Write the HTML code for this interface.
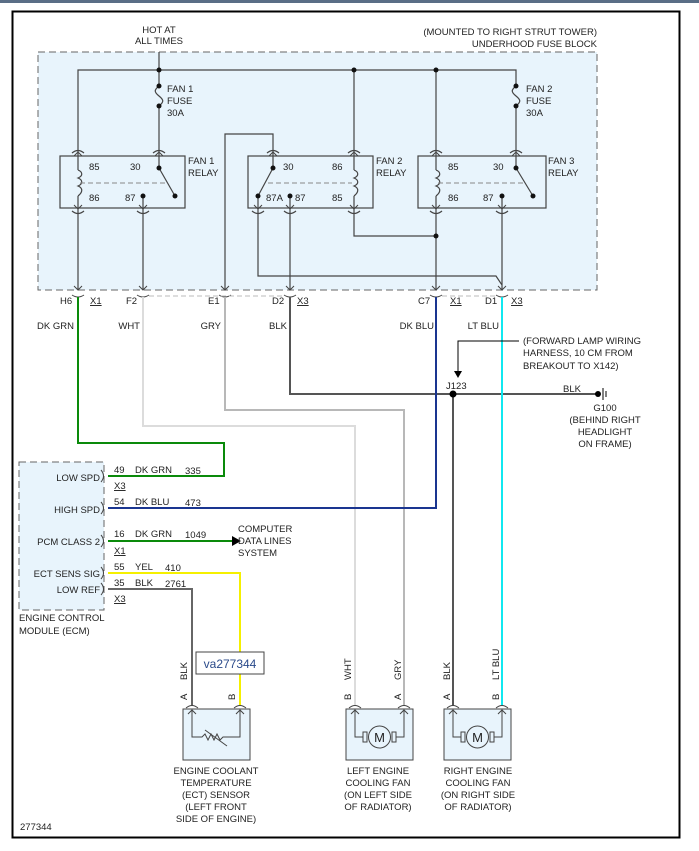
<!DOCTYPE html>
<html><head><meta charset="utf-8"><style>
html,body{margin:0;padding:0;background:#fff}
svg{display:block}
text{font-family:"Liberation Sans",sans-serif;font-size:9.5px;fill:#222}
</style></head><body>
<svg width="699" height="851" viewBox="0 0 699 851" xmlns="http://www.w3.org/2000/svg">
<rect x="0" y="0" width="699" height="3" fill="#5a6e86"/>
<rect x="12.5" y="11.5" width="667" height="826" fill="#fff" stroke="#000" stroke-width="2"/>
<rect x="38" y="52" width="559" height="238" fill="#e8f4fc" stroke="#666" stroke-dasharray="7,4"/>
<text x="159" y="44" text-anchor="middle">ALL TIMES</text>
<text x="159" y="33" text-anchor="middle">HOT AT</text>
<text x="597" y="35" text-anchor="end">(MOUNTED TO RIGHT STRUT TOWER)</text>
<text x="597" y="47" text-anchor="end">UNDERHOOD FUSE BLOCK</text>
<g stroke="#444" fill="none" stroke-width="1.2">
<path d="M159,52V86M78,152V70H516V86M354,70V152M436,70V152"/>
<path d="M159,106V152M516,106V152"/>
<path d="M159,86c-5,4 -5,6 0,10c5,4 5,6 0,10M516,86c-5,4 -5,6 0,10c5,4 5,6 0,10"/>
<rect x="60" y="156" width="125" height="52"/>
<rect x="248" y="156" width="125" height="52"/>
<rect x="418" y="156" width="128" height="52"/>
<path d="M72,153q6,-5 12,0M153,153q6,-5 12,0M267,153q6,-5 12,0M348,153q6,-5 12,0M430,153q6,-5 12,0M510,153q6,-5 12,0"/>
<path d="M72,211q6,5 12,0M137,211q6,5 12,0M252,211q6,5 12,0M284,211q6,5 12,0M348,211q6,5 12,0M430,211q6,5 12,0M496,211q6,5 12,0"/>
<path d="M78,153V170M78,196V212M159,153V168M143,196V212M273,153V168M258,196V212M290,196V212M354,153V170M354,196V212M436,153V170M436,196V212M516,153V168M502,196V212"/>
<path d="M78,170c5,2 5,6 0,8c5,2 5,6 0,8c5,2 5,6 0,10M354,170c5,2 5,6 0,8c5,2 5,6 0,8c5,2 5,6 0,10M436,170c5,2 5,6 0,8c5,2 5,6 0,8c5,2 5,6 0,10"/>
<path d="M159,168L175,196M273,168L258,196M516,168L533,196"/>
<path d="M78,212V290M143,212V290M258,212V276H496L502,285V290M290,212V290M354,212V236H436M436,212V290M502,212V290"/>
<path d="M273,153V134H225V290"/>
</g>
<g stroke="#888" fill="none" stroke-dasharray="5,3"><path d="M80,183H168M268,183H352M438,183H525"/></g>
<g stroke="#444" fill="none"><path d="M74,156l4,-4l4,4M74,205l4,4l4,-4M155,156l4,-4l4,4M139,205l4,4l4,-4M269,156l4,-4l4,4M254,205l4,4l4,-4M286,205l4,4l4,-4M350,156l4,-4l4,4M350,205l4,4l4,-4M432,156l4,-4l4,4M432,205l4,4l4,-4M512,156l4,-4l4,4M498,205l4,4l4,-4"/>
<path d="M74,286l4,4l4,-4M139,286l4,4l4,-4M221,286l4,4l4,-4M286,286l4,4l4,-4M432,286l4,4l4,-4M498,286l4,4l4,-4"/>
<path d="M72,295q6,4 12,0M137,295q6,4 12,0M219,295q6,4 12,0M284,295q6,4 12,0M430,295q6,4 12,0M496,295q6,4 12,0"/></g>
<path d="M149,296H284M442,296H496" stroke="#bbb" stroke-dasharray="5,3" fill="none"/>
<g fill="#111"><circle cx="159" cy="70" r="2.5"/><circle cx="354" cy="70" r="2.5"/><circle cx="436" cy="70" r="2.5"/><circle cx="159" cy="86" r="2.5"/><circle cx="159" cy="106" r="2.5"/><circle cx="516" cy="86" r="2.5"/><circle cx="516" cy="106" r="2.5"/><circle cx="436" cy="236" r="2.5"/>
<circle cx="159" cy="168" r="2.5"/><circle cx="175" cy="196" r="2.5"/><circle cx="143" cy="196" r="2.5"/><circle cx="273" cy="168" r="2.5"/><circle cx="258" cy="196" r="2.5"/><circle cx="290" cy="196" r="2.5"/><circle cx="516" cy="168" r="2.5"/><circle cx="533" cy="196" r="2.5"/><circle cx="502" cy="196" r="2.5"/></g>
<text x="167" y="92">FAN 1</text><text x="167" y="104">FUSE</text><text x="167" y="116">30A</text>
<text x="526" y="92">FAN 2</text><text x="526" y="104">FUSE</text><text x="526" y="116">30A</text>
<text x="188" y="164">FAN 1</text><text x="188" y="176">RELAY</text>
<text x="376" y="164">FAN 2</text><text x="376" y="176">RELAY</text>
<text x="548" y="164">FAN 3</text><text x="548" y="176">RELAY</text>
<text x="89" y="170">85</text><text x="130" y="170">30</text><text x="89" y="201">86</text><text x="125" y="201">87</text>
<text x="283" y="170">30</text><text x="332" y="170">86</text><text x="266" y="201">87A</text><text x="295" y="201">87</text><text x="332" y="201">85</text>
<text x="448" y="170">85</text><text x="493" y="170">30</text><text x="448" y="201">86</text><text x="483" y="201">87</text>
<text x="60" y="304">H6</text><text x="90" y="304" text-decoration="underline">X1</text>
<text x="126" y="304">F2</text><text x="208" y="304">E1</text>
<text x="272" y="304">D2</text><text x="297" y="304" text-decoration="underline">X3</text>
<text x="418" y="304">C7</text><text x="450" y="304" text-decoration="underline">X1</text>
<text x="485" y="304">D1</text><text x="511" y="304" text-decoration="underline">X3</text>
<text x="74" y="329" text-anchor="end">DK GRN</text><text x="140" y="329" text-anchor="end">WHT</text><text x="221" y="329" text-anchor="end">GRY</text><text x="287" y="329" text-anchor="end">BLK</text><text x="434" y="329" text-anchor="end">DK BLU</text><text x="499" y="329" text-anchor="end">LT BLU</text>
<g fill="none" stroke-width="2">
<path d="M143,297V426H355V706" stroke="#dcdcdc"/>
<path d="M225,297V410H404V706" stroke="#b8b8b8"/>
<path d="M78,297V443H224V476H108" stroke="#0a8a0a"/>
<path d="M290,297V394H598" stroke="#555"/>
<path d="M436,297V508H108" stroke="#1a3590"/>
<path d="M502,297V706" stroke="#10e8f0"/>
<path d="M453,394V706" stroke="#555"/>
<path d="M108,541H232" stroke="#0a8a0a"/>
<path d="M108,573H240V706" stroke="#f5f000"/>
<path d="M108,589H192V706" stroke="#666"/>
</g>
<path d="M232,536L241,541L232,546z" fill="#000"/>
<circle cx="453" cy="394" r="3.5" fill="#000"/>
<circle cx="598" cy="394" r="3" fill="#000"/>
<path d="M603,388V400M606,391V397" stroke="#000" fill="none"/>
<path d="M519,341H458V372" stroke="#000" fill="none"/><path d="M454,371L458,378L462,371z" fill="#000"/>
<text x="523" y="344">(FORWARD LAMP WIRING</text><text x="523" y="356">HARNESS, 10 CM FROM</text><text x="523" y="369">BREAKOUT TO X142)</text>
<text x="446" y="389">J123</text><text x="563" y="392">BLK</text>
<text x="605" y="411" text-anchor="middle">G100</text><text x="605" y="423" text-anchor="middle">(BEHIND RIGHT</text><text x="605" y="435" text-anchor="middle">HEADLIGHT</text><text x="605" y="447" text-anchor="middle">ON FRAME)</text>
<rect x="19" y="462" width="85" height="148" fill="#e8f4fc" stroke="#666" stroke-dasharray="7,4"/>
<text x="100" y="481" text-anchor="end">LOW SPD</text><text x="100" y="513" text-anchor="end">HIGH SPD</text><text x="100" y="545" text-anchor="end">PCM CLASS 2</text><text x="100" y="577" text-anchor="end">ECT SENS SIG</text><text x="100" y="593" text-anchor="end">LOW REF</text>
<g fill="none" stroke="#444"><path d="M101,470q5,6 0,12M101,502q5,6 0,12M101,535q5,6 0,12M101,567q5,6 0,12M101,583q5,6 0,12"/></g>
<text x="114" y="473">49</text><text x="135" y="473">DK GRN</text><text x="185" y="474">335</text><text x="114" y="489" text-decoration="underline">X3</text>
<text x="114" y="505">54</text><text x="135" y="505">DK BLU</text><text x="185" y="506">473</text>
<text x="114" y="537">16</text><text x="135" y="537">DK GRN</text><text x="185" y="538">1049</text><text x="114" y="554" text-decoration="underline">X1</text>
<text x="114" y="570">55</text><text x="135" y="570">YEL</text><text x="165" y="571">410</text>
<text x="114" y="586">35</text><text x="135" y="586">BLK</text><text x="165" y="587">2761</text><text x="114" y="602" text-decoration="underline">X3</text>
<text x="238" y="532">COMPUTER</text><text x="238" y="544">DATA LINES</text><text x="238" y="556">SYSTEM</text>
<text x="19" y="621">ENGINE CONTROL</text><text x="19" y="634">MODULE (ECM)</text>
<g fill="#e8f4fc" stroke="#444"><rect x="183" y="709" width="67" height="51"/><rect x="346" y="709" width="67" height="51"/><rect x="444" y="709" width="67" height="51"/></g>
<g fill="none" stroke="#444">
<path d="M186,708q6,-5 12,0M234,708q6,-5 12,0M349,708q6,-5 12,0M398,708q6,-5 12,0M447,708q6,-5 12,0M496,708q6,-5 12,0"/>
<path d="M192,710V737H202l3,-3 3,6 3,-6 3,6 3,-6 3,6 3,-3H240V710"/><path d="M205,730L227,746"/>
<path d="M355,710V737H363M396,737H404V710M453,710V737H461M494,737H502V710"/>
<rect x="363" y="732" width="4" height="10"/><rect x="392" y="732" width="4" height="10"/><circle cx="379.5" cy="737" r="11"/>
<rect x="461" y="732" width="4" height="10"/><rect x="490" y="732" width="4" height="10"/><circle cx="477.5" cy="737" r="11"/>
<path d="M188,714l4,-4l4,4M236,714l4,-4l4,4M351,714l4,-4l4,4M400,714l4,-4l4,4M449,714l4,-4l4,4M498,714l4,-4l4,4"/>
</g>
<text x="379.5" y="742" text-anchor="middle" style="font-size:13px">M</text><text x="477.5" y="742" text-anchor="middle" style="font-size:13px">M</text>
<rect x="196" y="652" width="68" height="22" fill="#fff" stroke="#444"/>
<text x="230" y="668" text-anchor="middle" style="font-size:12px;fill:#2a4a8a">va277344</text>
<g>
<text transform="translate(187,680) rotate(-90)">BLK</text><text transform="translate(187,700) rotate(-90)">A</text>
<text transform="translate(235,700) rotate(-90)">B</text>
<text transform="translate(351,680) rotate(-90)">WHT</text><text transform="translate(351,700) rotate(-90)">B</text>
<text transform="translate(401,680) rotate(-90)">GRY</text><text transform="translate(401,700) rotate(-90)">A</text>
<text transform="translate(450,680) rotate(-90)">BLK</text><text transform="translate(450,700) rotate(-90)">A</text>
<text transform="translate(499,680) rotate(-90)">LT BLU</text><text transform="translate(499,700) rotate(-90)">B</text>
</g>
<g text-anchor="middle">
<text x="216" y="774">ENGINE COOLANT</text><text x="216" y="786">TEMPERATURE</text><text x="216" y="798">(ECT) SENSOR</text><text x="216" y="810">(LEFT FRONT</text><text x="216" y="822">SIDE OF ENGINE)</text>
<text x="378" y="774">LEFT ENGINE</text><text x="378" y="786">COOLING FAN</text><text x="378" y="798">(ON LEFT SIDE</text><text x="378" y="810">OF RADIATOR)</text>
<text x="478" y="774">RIGHT ENGINE</text><text x="478" y="786">COOLING FAN</text><text x="478" y="798">(ON RIGHT SIDE</text><text x="478" y="810">OF RADIATOR)</text>
</g>
<text x="20" y="830">277344</text>
</svg>
</body></html>
